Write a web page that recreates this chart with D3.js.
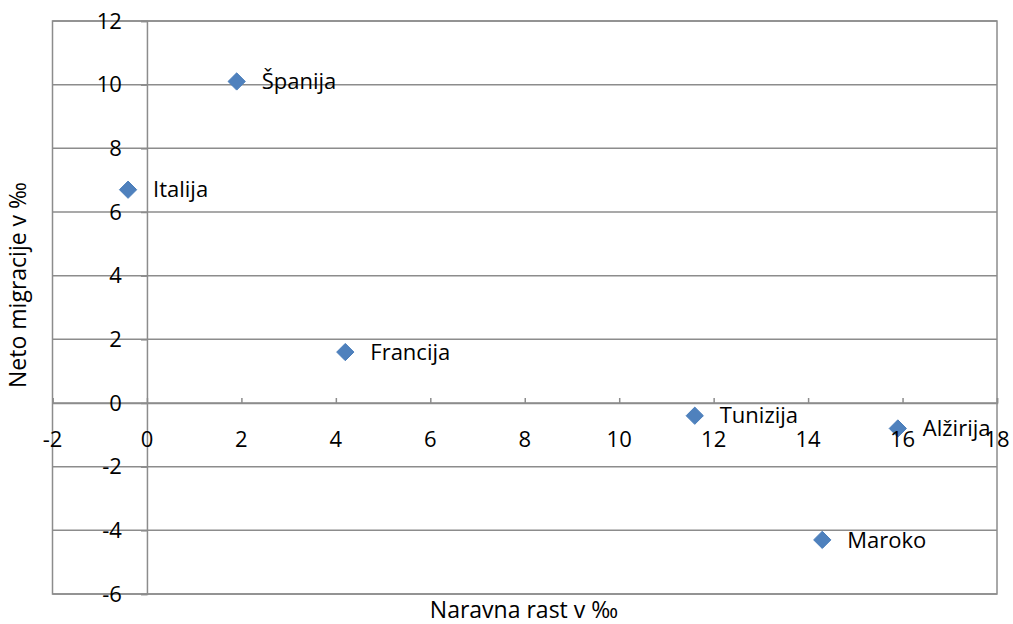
<!DOCTYPE html>
<html><head><meta charset="utf-8">
<script src="https://cdn.jsdelivr.net/npm/d3@7"></script>
<style>body{margin:0;background:#fff}svg{display:block}text{font-family:"Open Sans",sans-serif;fill:#000}</style>
</head><body>
<svg id="c" width="1013" height="624"></svg>
<script>
const countries = ["Italija","Španija","Francija","Tunizija","Alžirija","Maroko"];
const naturalGrowth = [-0.4, 1.9, 4.2, 11.6, 15.9, 14.3];
const netMigration = [6.7, 10.1, 1.6, -0.4, -0.8, -4.3];
const xTicks = [-2,0,2,4,6,8,10,12,14,16,18];
const yTicks = [-6,-4,-2,0,2,4,6,8,10,12];
const xTitle = "Naravna rast v ‰";
const yTitle = "Neto migracije v ‰";

const svg = d3.select("#c");
const L=52.5, R=997, T=21, B=594;
const x = d3.scaleLinear().domain([-2,18]).range([L,R]);
const y = d3.scaleLinear().domain([-6,12]).range([B,T]);
const grid="#8c8c8c";

svg.append("g").selectAll("line").data(yTicks).join("line")
  .attr("x1",L).attr("x2",R).attr("y1",d=>y(d)).attr("y2",d=>y(d))
  .attr("stroke",grid).attr("stroke-width",1.5);
svg.append("rect").attr("x",L).attr("y",T).attr("width",R-L).attr("height",B-T)
  .attr("fill","none").attr("stroke",grid).attr("stroke-width",1.5);

const xa = svg.append("g").attr("transform",`translate(0,${y(0)})`)
  .call(d3.axisTop(x).tickValues(xTicks).tickSize(5).tickFormat(""));
xa.select(".domain").attr("stroke",grid).attr("stroke-width",1.5);
xa.selectAll(".tick line").attr("stroke",grid).attr("stroke-width",1.5);

const ya = svg.append("g").attr("transform",`translate(${x(0)},0)`)
  .call(d3.axisLeft(y).tickValues(yTicks).tickSize(6).tickFormat(""));
ya.select(".domain").attr("stroke",grid).attr("stroke-width",1.5);
ya.selectAll(".tick line").attr("stroke",grid).attr("stroke-width",1.5);

const data = countries.map((c,i)=>({c, gx:naturalGrowth[i], my:netMigration[i]}));
const g = svg.append("g");
g.selectAll("path").data(data).join("path")
  .attr("transform",d=>`translate(${x(d.gx)},${y(d.my)})`)
  .attr("d",d3.symbol(d3.symbolDiamond2,190)())
  .attr("fill","#4f81bd").attr("stroke","#4a7ebb").attr("stroke-width",1);
g.selectAll("text").data(data).join("text")
  .attr("x",d=>x(d.gx)+25).attr("y",d=>y(d.my)).attr("dy","0.35em")
  .style("font-size","22px").text(d=>d.c);

svg.append("g").selectAll("text").data(xTicks).join("text")
  .attr("x",d=>x(d)).attr("y",y(0)+36).attr("dy","0.35em").attr("text-anchor","middle")
  .style("font-size","22px").text(d=>d);
svg.append("g").selectAll("text").data(yTicks).join("text")
  .attr("x",x(0)-25).attr("y",d=>y(d)).attr("dy","0.35em").attr("text-anchor","end")
  .style("font-size","22px").text(d=>d);

svg.append("text").attr("x",524).attr("y",618).attr("text-anchor","middle")
  .style("font-size","23px").text(xTitle);
svg.append("text").attr("transform",`translate(26,285) rotate(-90)`)
  .attr("text-anchor","middle").style("font-size","23px").text(yTitle);
</script>
</body></html>
